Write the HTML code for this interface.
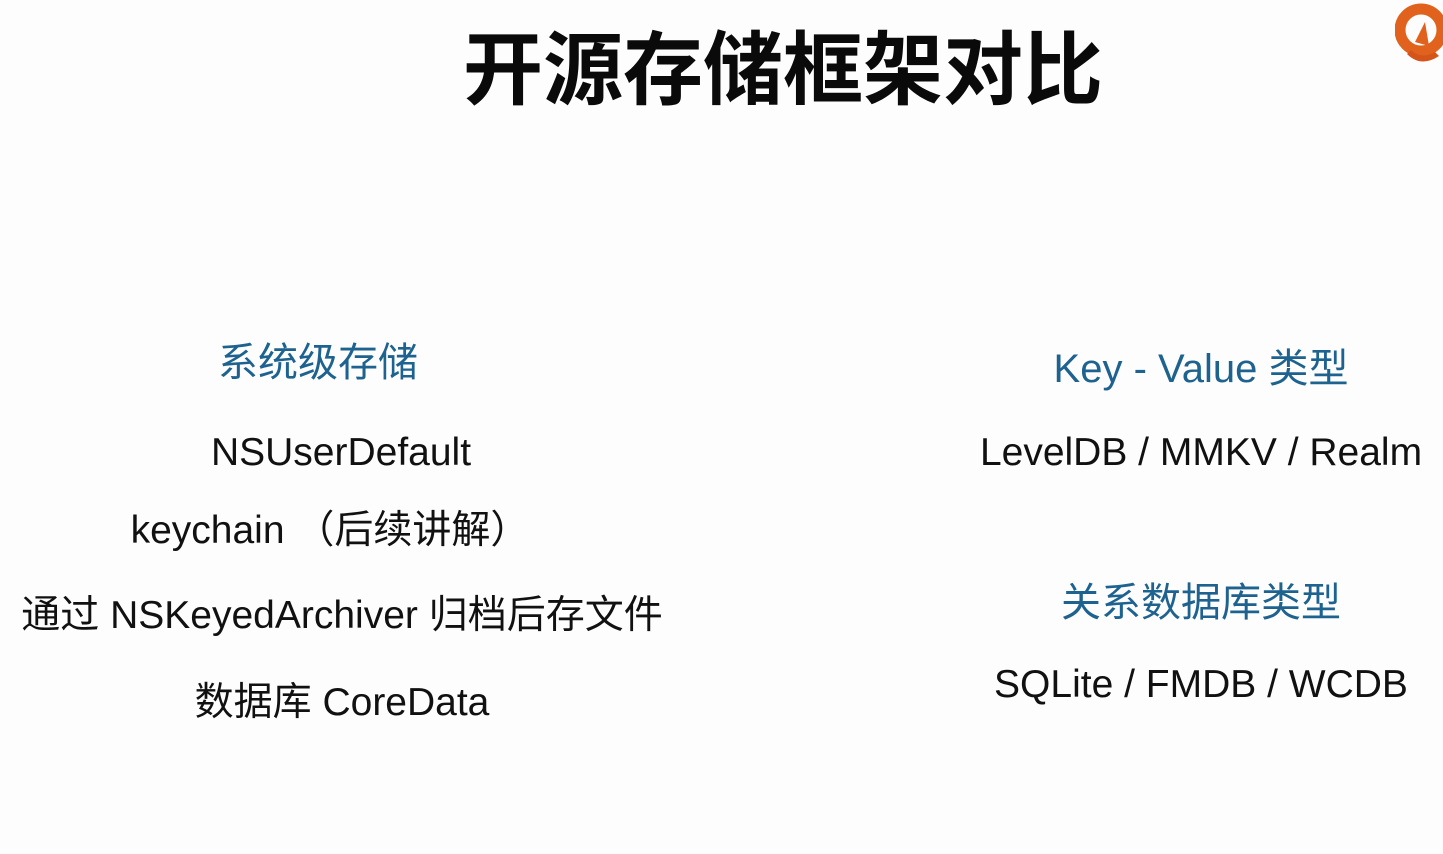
<!DOCTYPE html>
<html><head><meta charset="utf-8"><style>
body{margin:0;width:1443px;height:854px;background:#fdfdfd;overflow:hidden;position:relative;font-family:"Liberation Sans","Noto Sans CJK SC",sans-serif;}
.t{position:absolute;white-space:nowrap;text-align:center;line-height:50px;height:50px;color:#111;font-size:39px;}
.b{color:#1e6390;font-size:40px;}
</style></head><body>
<div class="t" style="left:400px;width:766px;top:26px;height:90px;line-height:90px;font-size:80px;font-weight:bold;color:#0a0a0a;">开源存储框架对比</div>
<svg style="position:absolute;left:1395px;top:2px" width="48" height="66" viewBox="0 0 48 66">
<circle cx="26" cy="28" r="21" fill="none" stroke="#e0621c" stroke-width="11"/>
<path d="M20 40 L30 20 L34 44 Z" fill="#e0621c"/>
<path d="M12 52 Q26 66 44 54 L40 50 Q26 58 16 48 Z" fill="#d5541a"/>
</svg>
<div class="t b" style="left:118px;width:400px;top:338px;">系统级存储</div>
<div class="t" style="left:141px;width:400px;top:428px;">NSUserDefault</div>
<div class="t" style="left:130px;width:400px;top:506px;">keychain （后续讲解）</div>
<div class="t" style="left:0px;width:684px;top:591px;">通过 NSKeyedArchiver 归档后存文件</div>
<div class="t" style="left:142px;width:400px;top:678px;">数据库 CoreData</div>
<div class="t b" style="left:951px;width:500px;top:344px;">Key - Value 类型</div>
<div class="t" style="left:951px;width:500px;top:428px;">LevelDB / MMKV / Realm</div>
<div class="t b" style="left:951px;width:500px;top:578px;">关系数据库类型</div>
<div class="t" style="left:951px;width:500px;top:660px;">SQLite / FMDB / WCDB</div>
</body></html>
